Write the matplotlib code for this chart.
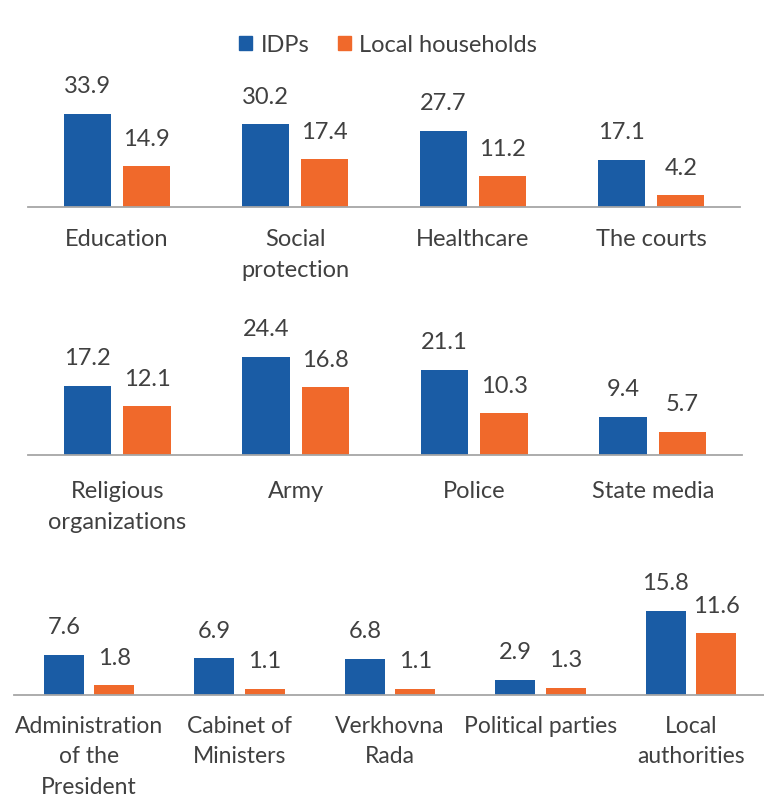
import matplotlib
matplotlib.use("Agg")
import matplotlib.pyplot as plt
from matplotlib.patches import Patch
import numpy as np

plt.rcParams['font.family'] = ['Lato', 'DejaVu Sans']

# trust levels, % of respondents
row1_labels = ["Education", "Social\nprotection", "Healthcare", "The courts"]
row1_idp = [33.9, 30.2, 27.7, 17.1]
row1_local = [14.9, 17.4, 11.2, 4.2]

row2_labels = ["Religious\norganizations", "Army", "Police", "State media"]
row2_idp = [17.2, 24.4, 21.1, 9.4]
row2_local = [12.1, 16.8, 10.3, 5.7]

row3_labels = ["Administration\nof the\nPresident", "Cabinet of\nMinisters",
               "Verkhovna\nRada", "Political parties", "Local\nauthorities"]
row3_idp = [7.6, 6.9, 6.8, 2.9, 15.8]
row3_local = [1.8, 1.1, 1.1, 1.3, 11.6]

BLUE = "#1a5ca5"
ORANGE = "#f0692b"
TEXT = "#404040"

W, H = 764, 796
fig = plt.figure(figsize=(W / 100, H / 100), dpi=100)


def panel(left, right, base, scale, labels, idp, local, pad, fs=17):
    top = base - 140
    ax = fig.add_axes([left / W, (H - base) / H, (right - left) / W, (base - top) / H])
    x = np.arange(len(labels))
    w = 0.265
    off = (w + 0.07) / 2
    b1 = ax.bar(x - off, idp, w, color=BLUE)
    b2 = ax.bar(x + off, local, w, color=ORANGE)
    for b in (b1, b2):
        ax.bar_label(b, fmt="%.1f", padding=12, fontsize=17, color=TEXT)
    ax.set_xlim(-0.5, len(labels) - 0.5)
    ax.set_ylim(0, (base - top) / scale)
    ax.set_xticks(x)
    ax.set_xticklabels(labels, fontsize=fs, color=TEXT, linespacing=1.55)
    ax.tick_params(axis="x", length=0, pad=pad)
    ax.set_yticks([])
    for s in ("top", "left", "right"):
        ax.spines[s].set_visible(False)
    ax.spines["bottom"].set_color("#a6a6a6")
    ax.spines["bottom"].set_linewidth(1.3)
    ax.patch.set_alpha(0)
    return ax


panel(28, 740, 207, 2.74, row1_labels, row1_idp, row1_local, 16)
panel(28, 742, 455, 4.03, row2_labels, row2_idp, row2_local, 19)
panel(14, 766, 695, 5.32, row3_labels, row3_idp, row3_local, 15, fs=16.5)

handles = [Patch(color=BLUE, label="IDPs"), Patch(color=ORANGE, label="Local households")]
fig.legend(handles=handles, loc="center", bbox_to_anchor=(388 / W, 1 - 45 / H),
           ncol=2, frameon=False, fontsize=17, handlelength=0.55, handleheight=0.55,
           handletextpad=0.35, columnspacing=1.2, labelcolor=TEXT)

fig.savefig("out.png", dpi=100)
